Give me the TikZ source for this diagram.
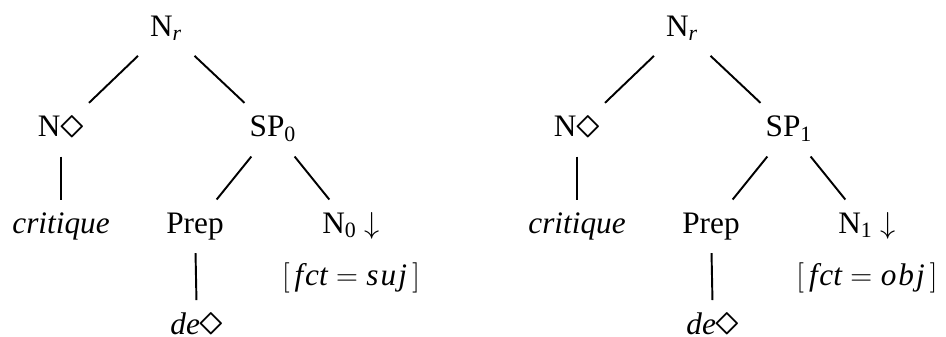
\documentclass[tikz,border=0pt]{standalone}
\usepackage{amsmath}
\usepackage{fontspec}
\setmainfont{Liberation Serif}
\usetikzlibrary{positioning}
\newcommand{\losange}{\raisebox{-0.06em}{\scalebox{1.55}{$\diamond$}}}
\tikzset{
  noeud/.style={inner sep=0pt, minimum width=1.2cm, minimum height=1.06cm,
    text height=0.42cm, text depth=0.14cm, font=\fontsize{17.8}{20}\selectfont},
  branche/.style={line width=1.1pt},
}

\begin{document}
\begin{tikzpicture}[x=0.02cm, y=-0.02cm]
  \useasboundingbox (0,0) rectangle (946,336);
  \foreach \k/\dx/\f in {0/0/s\kern1.2pt u\kern1.2pt j, 1/516/o\kern1.2pt b\kern1.2pt j}{
    % racine et premier niveau
    \node[noeud] (nr\k) at (166+\dx,29) {N$_{\textit{r}}$};
    \node[noeud, below=0.94cm of nr\k, xshift=-2.1cm] (nd\k) {N\losange};
    \node[noeud, below=0.94cm of nr\k, xshift=2.14cm] (sp\k) {SP$_{\text{\k}}$};
    % feuilles
    \node[noeud, below=0.86cm of nd\k] (crit\k) {\textit{critique}};
    \node[noeud, below=0.86cm of sp\k, xshift=-1.56cm] (prep\k) {Prep};
    \node[noeud, below=0.86cm of sp\k, xshift=1.56cm] (n\k) {N$_{\text{\k}}$ $\downarrow$};
    \node[noeud, below=-0.04cm of n\k] (fct\k) {$[\,\textit{f\kern1pt ct} = \textit{\f}\,]$};
    \node[noeud, below=0.94cm of prep\k, xshift=0.04cm] (de\k) {\textit{de}\losange};
    \draw[branche] (nr\k) -- (nd\k);
    \draw[branche] (nr\k) -- (sp\k);
    \draw[branche] (nd\k) -- (crit\k);
    \draw[branche] (sp\k) -- (prep\k);
    \draw[branche] (sp\k) -- (n\k);
    \draw[branche] (prep\k) -- (de\k);
  }
\end{tikzpicture}
\end{document}
